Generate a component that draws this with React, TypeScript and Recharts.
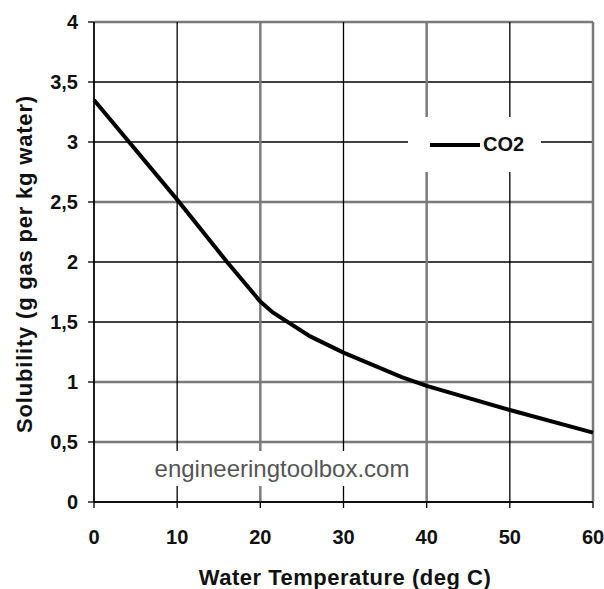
import { LineChart, Line, XAxis, YAxis, CartesianGrid, Legend } from 'recharts'

// water temperature (deg C) and CO2 solubility (g gas / kg water)
const temperature = [0, 10, 16, 20, 21.5, 26, 30, 37, 40, 50, 60]
const co2 = [3.35, 2.52, 2.0, 1.67, 1.58, 1.38, 1.245, 1.04, 0.967, 0.767, 0.578]

const xTicks = [0, 10, 20, 30, 40, 50, 60]
const yTicks = [0, 0.5, 1, 1.5, 2, 2.5, 3, 3.5, 4]

// grid lines that look grey/blurred in the original
const greyRows = [1, 2, 5, 8]
const greyCols = [2, 4, 6]

const data = temperature.map((t, i) => ({ t, co2: co2[i] }))

const FONT = '"Liberation Sans", Arial, sans-serif'
const tickStyle = { fontFamily: FONT, fontSize: 20, fontWeight: 700, fill: '#111' }

function gridLine(grey: number[]) {
  return (props: any) => {
    const isGrey = grey.includes(props.index)
    return (
      <line
        key={props.key}
        x1={props.x1}
        y1={props.y1}
        x2={props.x2}
        y2={props.y2}
        stroke={isGrey ? '#7a7a7a' : '#000'}
        strokeWidth={isGrey ? 2.5 : 1.3}
      />
    )
  }
}

function LegendBox() {
  return (
    <div
      style={{
        background: '#fff',
        width: 133,
        height: 55,
        display: 'flex',
        alignItems: 'center',
        fontFamily: FONT,
        fontWeight: 700,
        fontSize: 20,
        color: '#111',
      }}
    >
      <div style={{ width: 50, height: 4, background: '#000', marginLeft: 22, marginRight: 3 }} />
      CO2
    </div>
  )
}

export default function App() {
  return (
    <div style={{ position: 'relative', width: 604, height: 589, fontFamily: FONT }}>
      <style>{'html,body{margin:0;overflow:hidden}.recharts-surface{overflow:visible}'}</style>
      <LineChart
        width={604}
        height={589}
        data={data}
        margin={{ top: 22, right: 11, bottom: 37, left: 34 }}
      >
        <CartesianGrid
          horizontal={gridLine(greyRows)}
          vertical={gridLine(greyCols)}
          stroke="#000"
        />
        <XAxis
          dataKey="t"
          type="number"
          domain={[0, 60]}
          ticks={xTicks}
          tick={tickStyle}
          tickSize={6}
          tickMargin={22}
          height={50}
          stroke="#000"
          strokeWidth={1.3}
        />
        <YAxis
          type="number"
          domain={[0, 4]}
          ticks={yTicks}
          tick={tickStyle}
          tickSize={6}
          tickMargin={10}
          width={60}
          stroke="#000"
          strokeWidth={1.3}
          tickFormatter={(v: number) => String(v).replace('.', ',')}
        />
        <Legend
          verticalAlign="middle"
          content={<LegendBox />}
          wrapperStyle={{ position: 'absolute', left: 408, top: 117, width: 133, height: 55 }}
        />
        <Line
          type="linear"
          dataKey="co2"
          name="CO2"
          stroke="#000"
          strokeWidth={4}
          dot={false}
          isAnimationActive={false}
        />
      </LineChart>

      <div
        style={{
          position: 'absolute',
          left: 148,
          top: 451,
          width: 268,
          height: 35,
          background: '#fff',
          color: '#555',
          fontSize: 24,
          lineHeight: '35px',
          textAlign: 'center',
        }}
      >
        engineeringtoolbox.com
      </div>

      <div
        style={{
          position: 'absolute',
          left: 345,
          top: 578,
          transform: 'translate(-50%, -50%)',
          whiteSpace: 'nowrap',
          fontSize: 22,
          letterSpacing: 0.5,
          fontWeight: 700,
          color: '#111',
        }}
      >
        Water Temperature (deg C)
      </div>
      <div
        style={{
          position: 'absolute',
          left: 25,
          top: 264,
          transform: 'translate(-50%, -50%) rotate(-90deg)',
          whiteSpace: 'nowrap',
          fontSize: 22,
          letterSpacing: 0.8,
          fontWeight: 700,
          color: '#111',
        }}
      >
        Solubility (g gas per kg water)
      </div>
    </div>
  )
}
